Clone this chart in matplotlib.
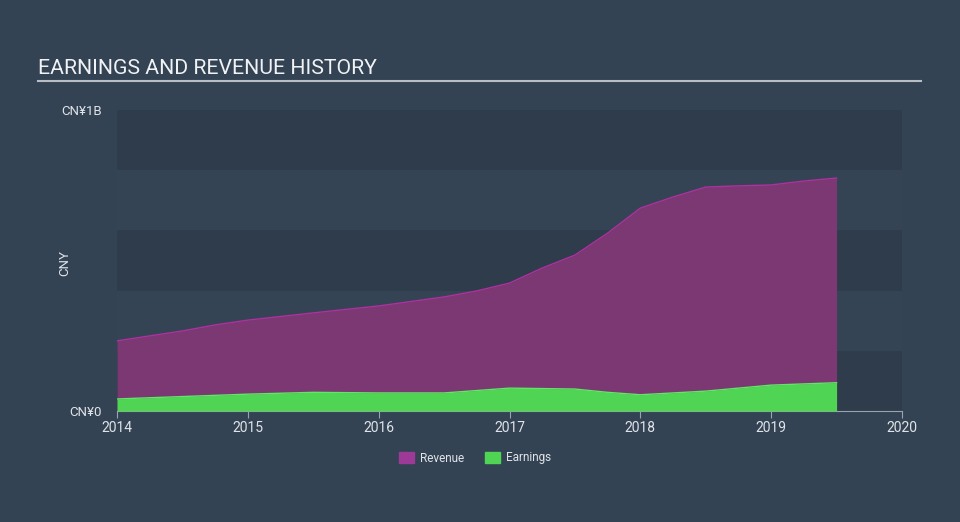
import numpy as np
import matplotlib.pyplot as plt
from matplotlib.patches import Patch

plt.rcParams['font.family'] = ['Roboto', 'DejaVu Sans']

# revenue and earnings history (CNY)
rev_t = [2014.0, 2014.5, 2014.75, 2015.0, 2015.5, 2016.0, 2016.5, 2016.75, 2017.0,
         2017.25, 2017.5, 2017.75, 2018.0, 2018.25, 2018.5, 2018.75, 2019.0, 2019.25, 2019.5]
revenue = [0.233, 0.266, 0.286, 0.302, 0.326, 0.349, 0.379, 0.399, 0.425,
           0.475, 0.518, 0.591, 0.674, 0.711, 0.744, 0.748, 0.751, 0.764, 0.774]
earn_t = [2014.0, 2014.5, 2015.0, 2015.5, 2016.0, 2016.5, 2017.0, 2017.5, 2017.75,
          2018.0, 2018.5, 2019.0, 2019.5]
earnings = [0.040, 0.048, 0.056, 0.062, 0.060, 0.060, 0.076, 0.073, 0.062,
            0.054, 0.066, 0.086, 0.094]
years = [2014, 2015, 2016, 2017, 2018, 2019, 2020]

bg = '#334354'
fig = plt.figure(figsize=(9.6, 5.22), dpi=100, facecolor=bg)
ax = fig.add_axes([117/960, 111/522, 785/960, 301/522])
ax.set_facecolor(bg)

# alternating bands
for i in range(5):
    c = '#2e3c4c' if i % 2 == 0 else '#344455'
    ax.axhspan(i*0.2e9, (i+1)*0.2e9, color=c, zorder=0, lw=0)

rv = np.array(revenue) * 1e9
ev = np.array(earnings) * 1e9
ax.fill_between(rev_t, 0, rv, color='#7b3873', lw=0, zorder=2)
ax.plot(rev_t, rv, color='#b0309f', lw=1.0, zorder=3)
ax.fill_between(earn_t, 0, ev, color='#4fd454', lw=0, zorder=4)
ax.plot(earn_t, ev, color='#5ee863', lw=1.0, zorder=5)

ax.set_xlim(2014, 2020)
ax.set_ylim(0, 1e9)
ax.set_xticks(years)
ax.set_xticklabels([str(y) for y in years], color='#e0e4e8', fontsize=10)
ax.set_yticks([0, 1e9])
ax.set_yticklabels(['CN¥0', 'CN¥1B'], color='#e0e4e8', fontsize=9.5)
ax.tick_params(axis='x', length=5, color='#9aa4ae', pad=2)
ax.tick_params(axis='y', length=0, pad=11)
for s in ['top', 'right', 'left']:
    ax.spines[s].set_visible(False)
ax.spines['bottom'].set_color('#9aa4ae')
ax.set_ylabel('CNY', color='#e0e4e8', fontsize=9.5)
ax.yaxis.set_label_coords(-46/785, 0.49)

fig.text(38/960, 1 - 68/522, 'EARNINGS AND REVENUE HISTORY', color='#f0f2f4',
         fontsize=15.3, va='center', ha='left')
fig.add_artist(plt.Line2D([38/960, 921/960], [1 - 81/522, 1 - 81/522],
                          color='#b8bec6', lw=1.5))

handles = [Patch(color='#9d3a98', label='Revenue'), Patch(color='#4fd454', label='Earnings')]
fig.legend(handles=handles, loc='center', bbox_to_anchor=(475/960, 1 - 458/522), ncol=2,
           frameon=False, fontsize=8.5, labelcolor='#e0e4e8', handlelength=1.3,
           handleheight=1.0, columnspacing=1.8, handletextpad=0.5)

fig.savefig('out.png', dpi=100, facecolor=bg)
